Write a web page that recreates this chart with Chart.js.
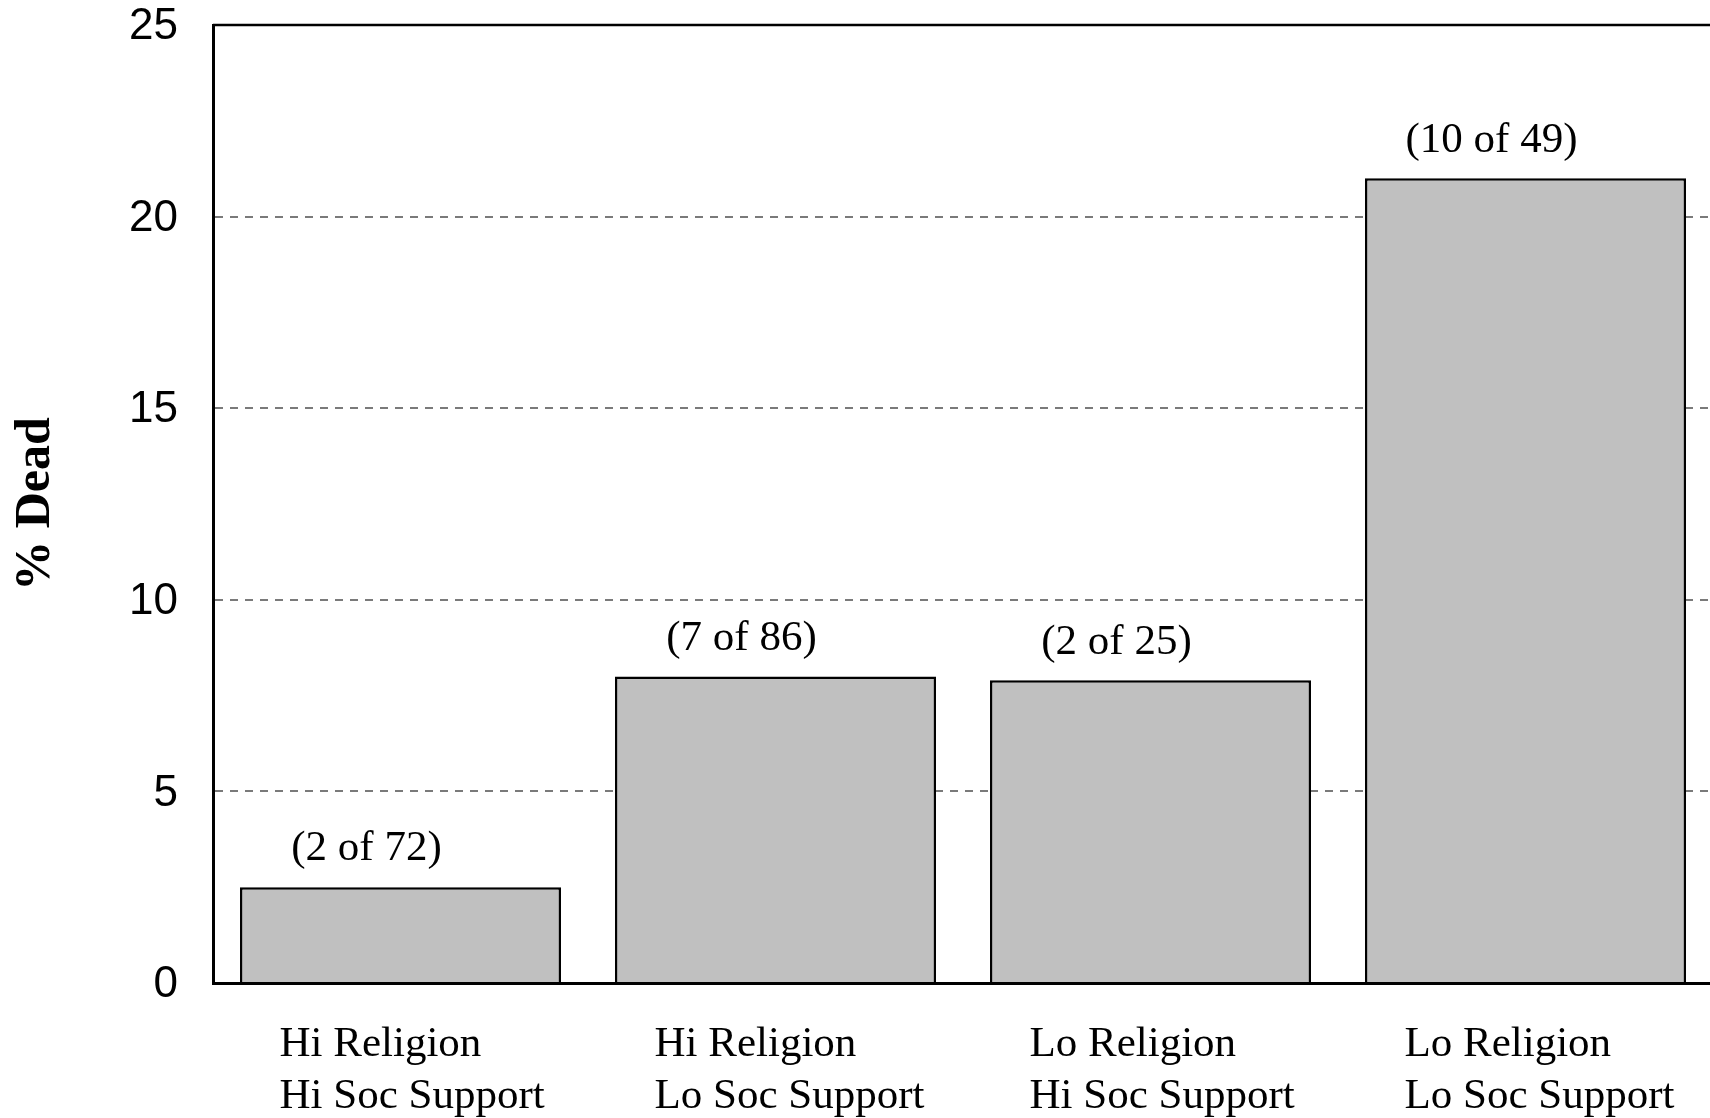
<!DOCTYPE html>
<html>
<head>
<meta charset="utf-8">
<script src="https://cdn.jsdelivr.net/npm/chart.js@4.4.1/dist/chart.umd.min.js"></script>
<style>
  html, body { margin: 0; padding: 0; background: #fff; overflow: hidden; }
  #wrap { width: 1716px; height: 1118px; position: relative; }
</style>
</head>
<body>
<div id="wrap"><canvas id="deadChart"></canvas></div>
<script>
// groups on the x axis (two-line labels)
const categories = [
    ['Hi Religion', 'Hi Soc Support'],
    ['Hi Religion', 'Lo Soc Support'],
    ['Lo Religion', 'Hi Soc Support'],
    ['Lo Religion', 'Lo Soc Support']
];
// % dead
const pctDead = [2.5, 8.0, 7.9, 21.0];
// counts written above each bar
const countLabels = ['(2 of 72)', '(7 of 86)', '(2 of 25)', '(10 of 49)'];
const yTicks = [0, 5, 10, 15, 20, 25];

const serif = '"Liberation Serif", "Times New Roman", serif';
const sans = '"Liberation Sans", Arial, sans-serif';

Chart.defaults.color = '#000';

// counts above the bars + top frame line
const extras = {
    id: 'extras',
    afterDatasetsDraw(chart) {
        const ctx = chart.ctx;
        const area = chart.chartArea;
        ctx.save();
        ctx.strokeStyle = '#000';
        ctx.lineWidth = 2.5;
        ctx.beginPath();
        ctx.moveTo(area.left, area.top);
        ctx.lineTo(area.right, area.top);
        ctx.lineTo(area.right, area.bottom);
        ctx.stroke();

        ctx.fillStyle = '#000';
        ctx.font = '43px ' + serif;
        ctx.textAlign = 'center';
        ctx.textBaseline = 'middle';
        chart.getDatasetMeta(0).data.forEach((bar, i) => {
            ctx.fillText(countLabels[i], bar.x - 34, bar.y - 38);
        });
        ctx.restore();
    }
};

const ctx = document.getElementById('deadChart').getContext('2d');
new Chart(ctx, {
    type: 'bar',
    data: {
        labels: categories,
        datasets: [{
            data: pctDead,
            backgroundColor: '#c0c0c0',
            borderColor: '#000',
            borderWidth: 2.5,
            barPercentage: 0.856,
            categoryPercentage: 1.0
        }]
    },
    options: {
        responsive: true,
        maintainAspectRatio: false,
        animation: false,
        layout: { padding: { left: 0, right: 3, top: 25, bottom: 0 } },
        plugins: {
            legend: { display: false },
            tooltip: { enabled: false }
        },
        scales: {
            x: {
                grid: { display: false, drawTicks: false },
                border: { display: true, color: '#000', width: 3 },
                ticks: {
                    align: 'start',
                    labelOffset: -121,
                    padding: 36,
                    autoSkip: false,
                    maxRotation: 0,
                    font: { family: serif, size: 43, lineHeight: 1.21 }
                },
                afterFit(scale) {
                    scale.height = 135;
                    scale.paddingLeft = 0;
                    scale.paddingRight = 0;
                }
            },
            y: {
                min: 0,
                max: 25,
                afterBuildTicks(scale) {
                    scale.ticks = yTicks.map(v => ({ value: v }));
                },
                grid: {
                    drawTicks: false,
                    lineWidth: 2,
                    color: c => (c.tick && (c.tick.value === 0 || c.tick.value === 25)) ? 'rgba(0,0,0,0)' : '#7a7a7a'
                },
                border: { display: true, color: '#000', width: 3, dash: [8, 7] },
                ticks: {
                    padding: 35,
                    labelOffset: 2,
                    font: { family: sans, size: 44 }
                },
                title: {
                    display: true,
                    text: '% Dead',
                    padding: { top: 6, bottom: 0 },
                    font: { family: serif, size: 50, weight: 'bold' }
                },
                afterFit(scale) {
                    scale.width = 213;
                    scale.paddingTop = 0;
                    scale.paddingBottom = 0;
                }
            }
        }
    },
    plugins: [extras]
});
</script>
</body>
</html>
